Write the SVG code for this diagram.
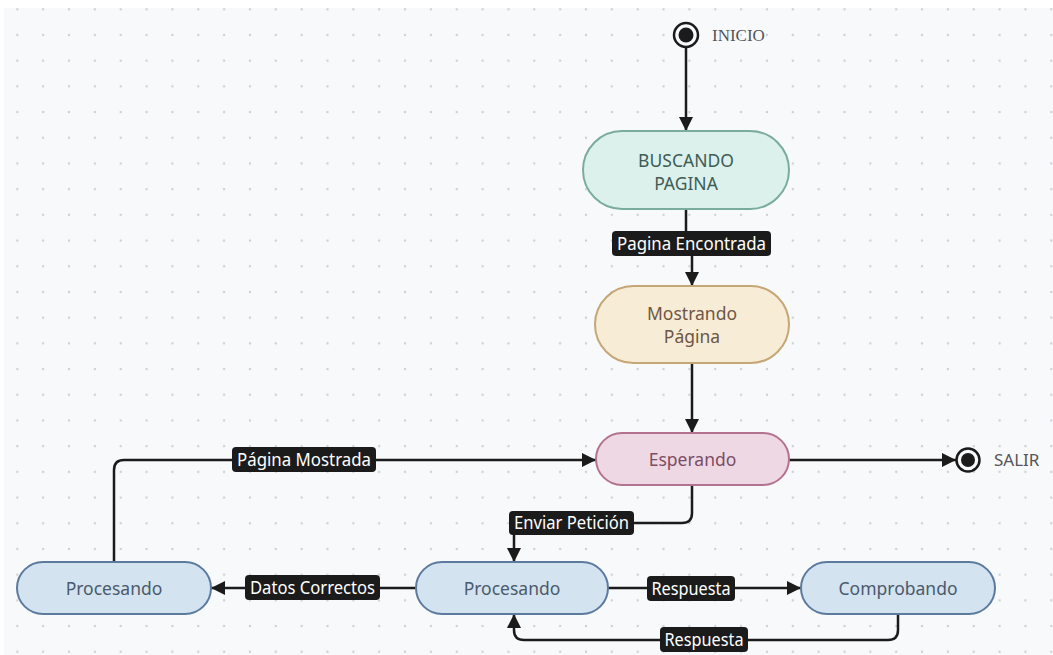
<svg xmlns="http://www.w3.org/2000/svg" width="1053" height="655" viewBox="0 0 1053 655">
  <defs>
    <pattern id="dots" x="4.4" y="-3.6" width="25.85" height="25.7" patternUnits="userSpaceOnUse">
      <circle cx="12.9" cy="12.9" r="1.2" fill="#cdd0d4"/>
    </pattern>
    <marker id="arrow" viewBox="0 0 14 14" refX="14" refY="7" markerWidth="14" markerHeight="14" markerUnits="userSpaceOnUse" orient="auto">
      <path d="M0,0 L14,7 L0,14 Z" fill="#1b1b1b"/>
    </marker>
  </defs>
  <style>
    .edge { fill: none; stroke: #1b1b1b; stroke-width: 2.5; }
    .node rect { stroke-width: 2; }
    .ntext { font-family: "Noto Sans", "Open Sans", sans-serif; font-size: 17.5px; text-anchor: middle; }
    .lbl rect { fill: #1b1b1b; }
    .lbl text { font-family: "Noto Sans", "Open Sans", sans-serif; font-size: 17.5px; fill: #ffffff; text-anchor: middle; }
    .green rect { fill: #dcf1eb; stroke: #7aac9d; }
    .green text { fill: #3f5c56; }
    .sand rect { fill: #f7ecd6; stroke: #c5a676; }
    .sand text { fill: #6e5646; }
    .pink rect { fill: #eed8e3; stroke: #b3728f; }
    .pink text { fill: #7c4d64; }
    .blue rect { fill: #d3e3f0; stroke: #5b7a9e; }
    .blue text { fill: #4b5a6b; }
    .term { fill: none; stroke: #1b1b1b; stroke-width: 2.5; }
    .termtext { font-size: 17px; fill: #555555; }
  </style>

  <!-- canvas -->
  <rect x="0" y="0" width="1053" height="655" fill="#ffffff"/>
  <rect x="4" y="8" width="1049" height="647" fill="#f8f9fb"/>
  <rect x="4" y="8" width="1049" height="647" fill="url(#dots)"/>

  <!-- connectors -->
  <g id="connectors">
    <path class="edge" d="M686,47 V131" marker-end="url(#arrow)"/>
    <path class="edge" d="M686,209 V243 H692 V286" marker-end="url(#arrow)"/>
    <path class="edge" d="M692,363 V433" marker-end="url(#arrow)"/>
    <path class="edge" d="M789,460 H956" marker-end="url(#arrow)"/>
    <path class="edge" d="M692,485 V513 Q692,523 682,523 H524 Q514,523 514,533 V562" marker-end="url(#arrow)"/>
    <path class="edge" d="M416,588 H211" marker-end="url(#arrow)"/>
    <path class="edge" d="M114,562 V470 Q114,460 124,460 H596" marker-end="url(#arrow)"/>
    <path class="edge" d="M608,588 H801" marker-end="url(#arrow)"/>
    <path class="edge" d="M898,614 V630 Q898,640 888,640 H524 Q514,640 514,630 V614" marker-end="url(#arrow)"/>

    <!-- edge labels (condensed to sit inside their tags) -->
    <g class="lbl">
      <rect x="612" y="231" width="159" height="25" rx="4"/>
      <text x="691.5" y="249.8" textLength="149" lengthAdjust="spacingAndGlyphs">Pagina Encontrada</text>
      <rect x="232" y="447" width="144" height="25" rx="4"/>
      <text x="304" y="465.8" textLength="134" lengthAdjust="spacingAndGlyphs">Página Mostrada</text>
      <rect x="509" y="511" width="125" height="24" rx="4"/>
      <text x="571.5" y="529.3" textLength="115" lengthAdjust="spacingAndGlyphs">Enviar Petición</text>
      <rect x="245" y="575" width="135" height="25" rx="4"/>
      <text x="312.5" y="593.8" textLength="125" lengthAdjust="spacingAndGlyphs">Datos Correctos</text>
      <rect x="647" y="576" width="88" height="25" rx="4"/>
      <text x="691" y="594.8" textLength="79" lengthAdjust="spacingAndGlyphs">Respuesta</text>
      <rect x="660" y="627" width="88" height="25" rx="4"/>
      <text x="704" y="645.8" textLength="79" lengthAdjust="spacingAndGlyphs">Respuesta</text>
    </g>
  </g>

  <!-- start / end states -->
  <g id="inicio">
    <circle class="term" cx="686" cy="35" r="12"/>
    <circle cx="686" cy="35" r="7.5" fill="#1b1b1b"/>
    <text class="termtext" x="712" y="41" font-family="'Liberation Serif', serif">INICIO</text>
  </g>
  <g id="salir">
    <circle class="term" cx="968" cy="460" r="11.5"/>
    <circle cx="968" cy="460" r="7" fill="#1b1b1b"/>
    <text class="termtext" x="994" y="466" font-family="'Noto Sans', sans-serif">SALIR</text>
  </g>

  <!-- states -->
  <g id="buscando" class="node green">
    <rect x="583" y="131" width="206" height="78" rx="39"/>
    <text class="ntext" x="686" y="166.5">BUSCANDO</text>
    <text class="ntext" x="686" y="189.5">PAGINA</text>
  </g>
  <g id="mostrando" class="node sand">
    <rect x="595" y="286" width="194" height="77" rx="38.5"/>
    <text class="ntext" x="692" y="319.5">Mostrando</text>
    <text class="ntext" x="692" y="342.5">Página</text>
  </g>
  <g id="esperando" class="node pink">
    <rect x="596" y="433" width="193" height="52" rx="26"/>
    <text class="ntext" x="692.5" y="465.5">Esperando</text>
  </g>
  <g id="procesando-final" class="node blue">
    <rect x="17" y="562" width="194" height="52" rx="26"/>
    <text class="ntext" x="114" y="594.5">Procesando</text>
  </g>
  <g id="procesando" class="node blue">
    <rect x="416" y="562" width="192" height="52" rx="26"/>
    <text class="ntext" x="512" y="594.5">Procesando</text>
  </g>
  <g id="comprobando" class="node blue">
    <rect x="801" y="562" width="194" height="52" rx="26"/>
    <text class="ntext" x="898" y="594.5">Comprobando</text>
  </g>
</svg>
